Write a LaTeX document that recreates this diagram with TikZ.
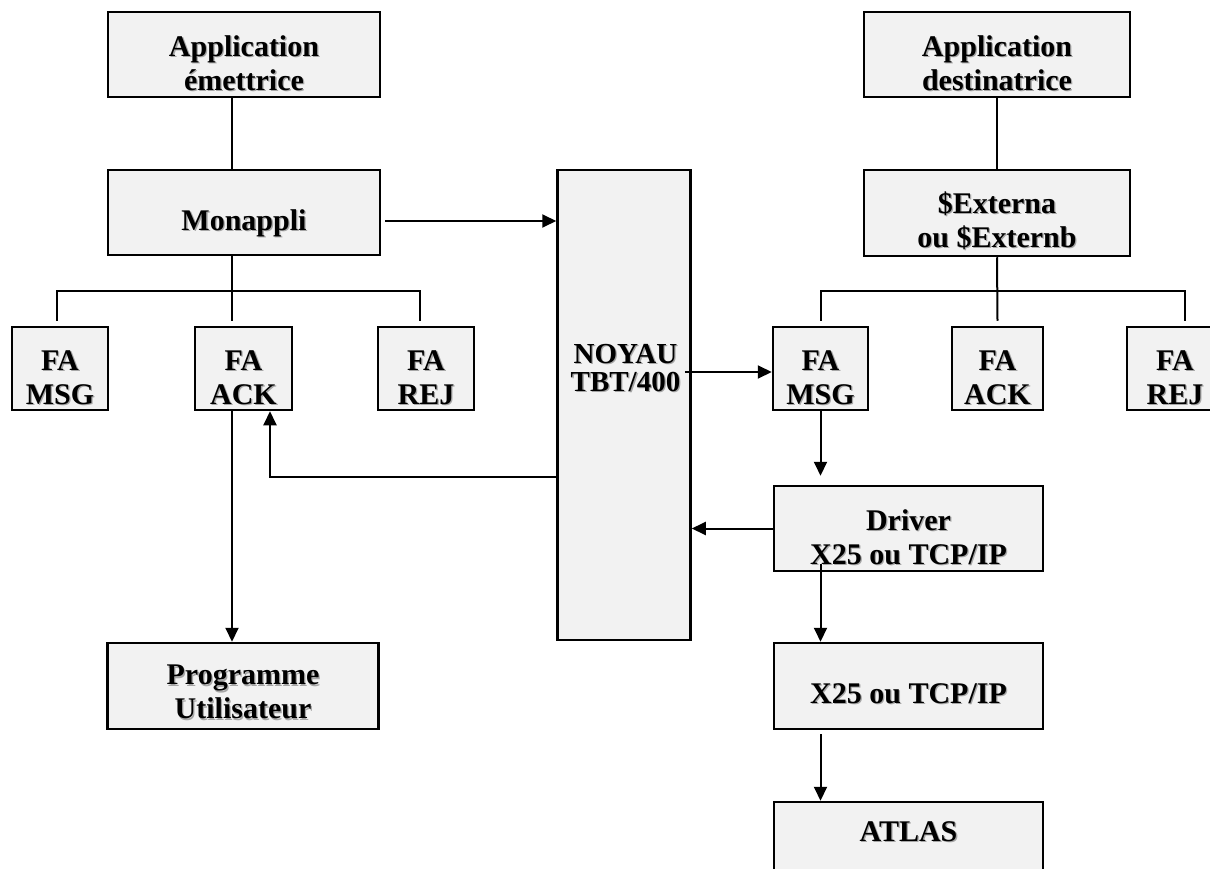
\documentclass[tikz,border=0pt]{standalone}
\usepackage{fontspec}
\setmainfont{Liberation Serif}
\usetikzlibrary{arrows.meta,calc}
\definecolor{boxgray}{HTML}{F2F2F2}
\newcommand{\sh}[1]{\leavevmode\rlap{\kern1.3pt\raisebox{-1.3pt}{\textcolor{black!35}{#1}}}#1}
\tikzset{
  blk/.style={draw=black, line width=2.5pt, fill=boxgray, inner sep=0pt, minimum height=85pt},
  txt/.style={inner sep=0pt, align=center, font=\fontsize{30}{34}\selectfont\bfseries},
  smalltxt/.style={inner sep=0pt, anchor=base, font=\fontsize{29}{30}\selectfont\bfseries},
  conn/.style={line width=2pt, black},
  arr/.style={conn, -{Triangle[length=14pt,width=13pt]}}
}
\begin{document}
\begin{tikzpicture}[x=1pt,y=-1pt]
\useasboundingbox (0,0) rectangle (1210,869);
% left column
\node[blk, minimum width=272pt, label={[txt,name=appEt,yshift=-9pt]center:{\sh{Application}\\\sh{émettrice}}}] (appE) at (244,54.5) {};
\node[blk, minimum width=272pt, label={[txt,name=mont,yshift=-11pt]center:{\sh{Monappli}}}] (mon) at (244,212.5) {};
\node[blk, minimum width=96pt, minimum height=83pt, label={[txt,name=faMsgLt,yshift=-10pt]center:{\sh{FA}\\\sh{MSG}}}] (faMsgL) at (60,368.5) {};
\node[blk, minimum width=97pt, minimum height=83pt, label={[txt,name=faAckLt,yshift=-10pt]center:{\sh{FA}\\\sh{ACK}}}] (faAckL) at (243.5,368.5) {};
\node[blk, minimum width=96pt, minimum height=83pt, label={[txt,name=faRejLt,yshift=-10pt]center:{\sh{FA}\\\sh{REJ}}}] (faRejL) at (426,368.5) {};
\node[blk, minimum width=271pt, minimum height=86pt, label={[txt,name=progt,yshift=-7pt]center:{\sh{Programme}\\\sh{Utilisateur}}}] (prog) at (243,686) {};
% centre
\node[blk, minimum width=133pt, minimum height=470pt] (noyau) at (624,405) {};
\node[smalltxt] (noyauT1) at (625.5,363) {\sh{NOYAU}};
\node[smalltxt] (noyauT2) at (625.5,391) {\sh{TBT/400}};
% right column
\node[blk, minimum width=266pt, label={[txt,name=appDt,yshift=-9pt]center:{\sh{Application}\\\sh{destinatrice}}}] (appD) at (997,54.5) {};
\node[blk, minimum width=266pt, minimum height=86pt, label={[txt,name=extt,yshift=-8pt]center:{\sh{\$Externa}\\\sh{ou \$Externb}}}] (ext) at (997,213) {};
\node[blk, minimum width=95pt, minimum height=83pt, label={[txt,name=faMsgRt,yshift=-10pt]center:{\sh{FA}\\\sh{MSG}}}] (faMsgR) at (820.5,368.5) {};
\node[blk, minimum width=91pt, minimum height=83pt, label={[txt,name=faAckRt,yshift=-10pt]center:{\sh{FA}\\\sh{ACK}}}] (faAckR) at (997.5,368.5) {};
\node[blk, minimum width=96pt, minimum height=83pt, label={[txt,name=faRejRt,yshift=-10pt]center:{\sh{FA}\\\sh{REJ}}}] (faRejR) at (1175,368.5) {};
\node[blk, minimum width=269pt] (driver) at (908.5,528.5) {};
\node[txt] (driverT) at (908.5,538) {\sh{Driver}\\\sh{X25 ou TCP/IP}};
\node[blk, minimum width=269pt, minimum height=86pt, label={[txt,name=x25t,yshift=-8pt]center:{\sh{X25 ou TCP/IP}}}] (x25) at (908.5,686) {};
\node[blk, minimum width=269pt, minimum height=84pt] (atlas) at (908.5,844) {};
\node[txt] (atlasT) at (908.5,832) {\sh{ATLAS}};
% branch points
\coordinate (brL) at (232,291);
\coordinate (brR) at (997,291);
% left connectors
\draw[conn] ([xshift=-12pt]appE.south) -- ([xshift=-12pt]mon.north);
\draw[conn] ([xshift=-12pt]mon.south) -- ([xshift=-11.5pt,yshift=5pt]faAckL.north);
\draw[conn] ([xshift=-3pt,yshift=5pt]faMsgL.north) |- (brL) -| ([xshift=-6pt,yshift=5pt]faRejL.north);
\draw[arr] ([xshift=4pt,yshift=-8.5pt]mon.east) coordinate (m1) -- (m1 -| noyau.west);
\draw[arr] ($(noyau.west)+(0,72)$) -| ($(faAckL.south)+(26.5,0)$);
\draw[arr] ([xshift=-11.5pt]faAckL.south) coordinate (a1) -- (a1 |- prog.north);
% right connectors
\draw[conn] (appD.south) -- (ext.north);
\draw[conn] (ext.south) -- ([yshift=5pt]faAckR.north);
\draw[conn] ([yshift=5pt]faMsgR.north) |- (brR) -| ([xshift=10pt,yshift=5pt]faRejR.north);
\draw[arr] ($(noyau.east |- faMsgR.west)+(-7,3.5)$) coordinate (n1) -- (n1 -| faMsgR.west);
\draw[arr, shorten >=9pt] (faMsgR.south) -- (faMsgR.south |- driver.north);
\draw[arr] (driver.west) -- (driver.west -| noyau.east);
\draw[arr] ($(driver.south -| faMsgR.south)+(0,-8)$) coordinate (d1) -- (d1 |- x25.north);
\draw[arr] ($(x25.south -| faMsgR.south)+(0,4)$) coordinate (x1) -- (x1 |- atlas.north);
\end{tikzpicture}
\end{document}
